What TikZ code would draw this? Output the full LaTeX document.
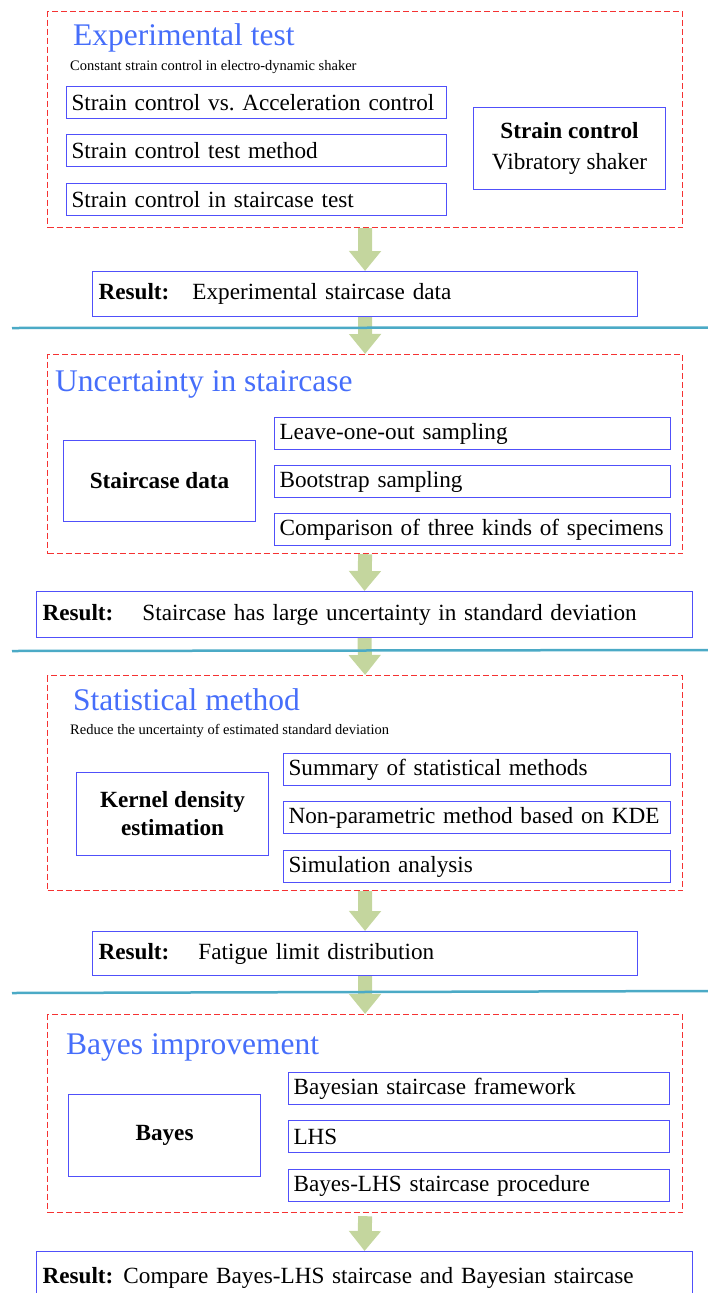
\documentclass[tikz,border=0pt]{standalone}
\usepackage{fontspec}
\setmainfont{Liberation Serif}
\usetikzlibrary{arrows.meta}

\definecolor{headblue}{RGB}{70,110,250}
\definecolor{boxblue}{RGB}{80,80,250}
\definecolor{dashred}{RGB}{245,50,50}
\definecolor{flowgreen}{RGB}{196,214,158}
\definecolor{rulecyan}{RGB}{75,170,198}

\frenchspacing

\tikzset{
    stage/.style={draw=dashred, line width=1.2pt, dash pattern=on 6pt off 3pt,
        anchor=north west, minimum width=635pt, inner sep=0pt},
    itembox/.style={draw=boxblue, line width=1.1pt, anchor=north west, align=left,
        inner xsep=5pt, inner ysep=0pt, minimum height=32pt,
        font=\fontsize{23.2}{27}\selectfont},
    keybox/.style={draw=boxblue, line width=1.1pt, anchor=north west, align=center,
        minimum width=192pt, inner sep=0pt, font=\fontsize{23.2}{28}\selectfont},
    resultbox/.style={draw=boxblue, line width=1.1pt, anchor=north west, align=left,
        inner xsep=6pt, inner ysep=0pt, font=\fontsize{23.2}{27}\selectfont},
    heading/.style={text=headblue, anchor=base west, inner sep=0pt,
        font=\fontsize{31.5}{35}\selectfont},
    note/.style={anchor=base west, inner sep=0pt, font=\fontsize{14.5}{17}\selectfont},
    flow/.style={draw=flowgreen, line width=14pt, -{Triangle[width=31pt,length=20pt]}},
    divider/.style={draw=rulecyan, line width=2.5pt}
}

\begin{document}
\begin{tikzpicture}[x=1pt, y=-1pt]
    \useasboundingbox (0,0) rectangle (708,1293);

    % Stage 1: experimental test
    \node[stage, minimum height=216pt] (sec1) at (47,11) {};
    \node[heading] (head1) at (73,45) {Experimental test};
    \node[note] (note1) at (70,70) {Constant strain control in electro-dynamic shaker};
    \node[itembox, text width=370pt] (exp1) at (66,86) {Strain control vs. Acceleration control};
    \node[itembox, text width=370pt] (exp2) at (66,134) {Strain control test method};
    \node[itembox, text width=370pt] (exp3) at (66,183) {Strain control in staircase test};
    \node[keybox, minimum height=82pt, font=\fontsize{23.2}{31}\selectfont] (key1) at (473,107)
        {\textbf{Strain control}\\Vibratory shaker};

    \node[resultbox, text width=533pt, minimum height=45pt] (res1) at (92,271)
        {\textbf{Result:}\hspace{23pt}Experimental staircase data};

    % Stage 2: uncertainty in staircase
    \node[stage, minimum height=199pt] (sec2) at (47,354) {};
    \node[heading] (head2) at (55,391) {Uncertainty in staircase};
    \node[keybox, minimum height=81pt] (key2) at (63,440) {\textbf{Staircase data}};
    \node[itembox, text width=386pt] (unc1) at (274,417) {Leave-one-out sampling};
    \node[itembox, text width=386pt] (unc2) at (274,465) {Bootstrap sampling};
    \node[itembox, text width=386pt] (unc3) at (274,513) {Comparison of three kinds of specimens};

    \node[resultbox, text width=644pt, minimum height=46pt] (res2) at (36,591)
        {\textbf{Result:}\hspace{29pt}Staircase has large uncertainty in standard deviation};

    % Stage 3: statistical method
    \node[stage, minimum height=215pt] (sec3) at (47,675) {};
    \node[heading] (head3) at (73,710) {Statistical method};
    \node[note] (note3) at (70,734) {Reduce the uncertainty of estimated standard deviation};
    \node[keybox, minimum height=83pt] (key3) at (76,772) {\textbf{Kernel density}\\\textbf{estimation}};
    \node[itembox, text width=377pt] (sta1) at (283,753) {Summary of statistical methods};
    \node[itembox, text width=377pt] (sta2) at (283,801) {Non-parametric method based on KDE};
    \node[itembox, text width=377pt] (sta3) at (283,850) {Simulation analysis};

    \node[resultbox, text width=533pt, minimum height=44pt] (res3) at (92,931)
        {\textbf{Result:}\hspace{29pt}Fatigue limit distribution};

    % Stage 4: Bayes improvement
    \node[stage, minimum height=198pt] (sec4) at (47,1014) {};
    \node[heading] (head4) at (66,1054) {Bayes improvement};
    \node[keybox, minimum height=82pt] (key4) at (68,1094) {\textbf{Bayes}};
    \node[itembox, text width=371pt] (bay1) at (288,1072) {Bayesian staircase framework};
    \node[itembox, text width=371pt] (bay2) at (288,1120) {LHS};
    \node[itembox, text width=371pt] (bay3) at (288,1169) {Bayes-LHS staircase procedure};

    \node[resultbox, text width=644pt, minimum height=52pt] (res4) at (36,1251)
        {\textbf{Result:}\hspace{10pt}Compare Bayes-LHS staircase and Bayesian staircase};

    % Flow arrows
    \draw[flow] (sec1.south) -- (res1.north);
    \draw[flow] (res1.south) -- (sec2.north);
    \draw[flow] (sec2.south) -- (res2.north);
    \draw[flow] (res2.south) -- (sec3.north);
    \draw[flow] (sec3.south) -- (res3.north);
    \draw[flow] (res3.south) -- (sec4.north);
    \draw[flow] ([yshift=-3pt]sec4.south) -- (res4.north);

    % Dividers between stages
    \draw[divider] (12,328) -- (708,327.5);
    \draw[divider] (12,651) -- (708,650);
    \draw[divider] (12,993) -- (708,991);
\end{tikzpicture}
\end{document}
